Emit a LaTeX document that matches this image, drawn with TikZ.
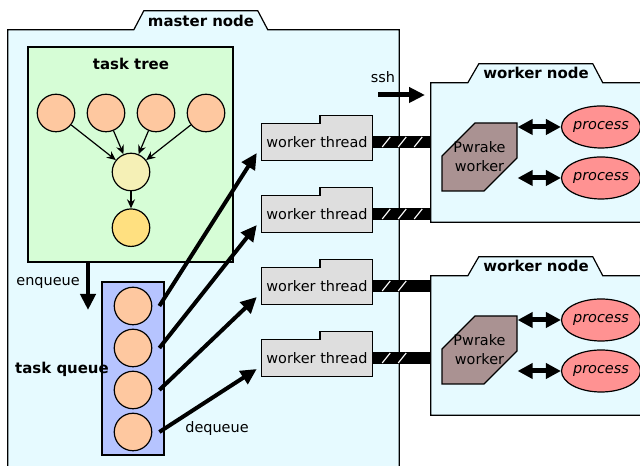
\documentclass[tikz,border=0pt]{standalone}
\usepackage{fontspec}
\setmainfont{DejaVu Sans}
\usepackage{tikz}
\usetikzlibrary{positioning}
\usetikzlibrary{shapes.geometric, shapes.misc, arrows.meta}

\definecolor{nodebg}{RGB}{230,250,255}
\definecolor{treebg}{RGB}{214,253,214}
\definecolor{queuebg}{RGB}{182,196,255}
\definecolor{taskfill}{RGB}{254,200,160}
\definecolor{midfill}{RGB}{245,240,182}
\definecolor{leaffill}{RGB}{255,224,128}
\definecolor{threadfill}{RGB}{222,222,222}
\definecolor{pwfill}{RGB}{170,146,146}
\definecolor{procfill}{RGB}{255,146,146}

\newcommand{\normsize}{\fontsize{14.5}{19}\selectfont}
\newcommand{\headsize}{\fontsize{15}{19}\selectfont\bfseries}

\tikzstyle{arrow} = [line width=4bp,-{Triangle[length=16bp,width=15bp]}]
\tikzstyle{darrow} = [line width=5bp,{Triangle[length=15bp,width=15bp]}-{Triangle[length=15bp,width=15bp]}]
\tikzstyle{tarrow} = [line width=1.2bp,-{Stealth[length=9bp,width=8bp,inset=3bp]}]
\tikzstyle{frame} = [draw,line width=1.2bp,fill=nodebg]
\tikzstyle{title} = [font=\headsize]
\tikzstyle{label} = [font=\normsize]
\tikzstyle{task} = [circle,draw,line width=1.2bp,minimum size=37.5bp,inner sep=0pt]
\tikzstyle{wthread} = [rectangle,fill=threadfill,minimum width=110bp,minimum height=37bp,inner sep=0pt,font=\normsize]
\tikzstyle{pwrake} = [chamfered rectangle,chamfered rectangle corners={north west,south east},chamfered rectangle xsep=15bp,chamfered rectangle ysep=18bp,draw,line width=1.2bp,fill=pwfill,minimum width=75bp,minimum height=68bp,inner xsep=-3.9bp,inner ysep=0pt,align=center,font=\normsize]
\tikzstyle{proc} = [ellipse,draw,line width=1.2bp,fill=procfill,minimum width=72bp,minimum height=42bp,inner sep=0pt,font=\normsize\itshape]
\tikzstyle{bar} = [line width=12bp]
\tikzstyle{slash} = [white,line width=1.1bp]

\begin{document}
\begin{tikzpicture}[x=1bp,y=1bp]
	\useasboundingbox (0,0) rectangle (640,466);

	%Master node
	\node (master) [minimum width=391bp,minimum height=456bp,inner sep=0pt] at (203.5,208) {};
	\filldraw[frame] (master.south west) -- (master.north west) -- ++(126,0) -- ++(10,19) -- ++(114,0) -- ++(10,-19) -- (master.north east) -- (master.south east);
	\node[title] (mastertitle) at (201,445) {master node};

	%Task tree
	\node (tree) [draw,line width=1.2bp,fill=treebg,minimum width=205bp,minimum height=215bp] at (130.5,311.5) {};
	\node[title] (treetitle) at (131,402) {task tree};
	\foreach \i in {1,...,4}
		\node[task,fill=taskfill] (t\i) at (6+50*\i,353) {};
	\node[task,fill=midfill] (mid) at (131,294) {};
	\node[task,fill=leaffill,below=17bp of mid] (leaf) {};
	\foreach \i in {1,...,4}
		\draw[tarrow] (t\i) -- (mid);
	\draw[tarrow] (mid) -- (leaf);

	%Task queue
	\node (queue) [draw,line width=1.2bp,fill=queuebg,minimum width=62bp,minimum height=173bp] at (133,97.5) {};
	\foreach \i in {1,...,4}
		\node[task,fill=taskfill] (q\i) at (133,202-42*\i) {};
	\node[title] (queuetitle) at (62,97) {task queue};
	\coordinate (enq) at (88,156);
	\draw[arrow] (enq |- tree.south) -- node[label,left=3bp,pos=0.42] (enqlabel) {enqueue} (enq);

	%Worker threads
	\foreach \i in {1,...,4} {
		\node[wthread] (wt\i) at (317,396-72*\i) {worker thread};
		\fill[threadfill] ([xshift=3bp]wt\i.north) rectangle ([yshift=8bp]wt\i.north east);
		\draw[line width=1.2bp] (wt\i.south west) -- (wt\i.north west) -- ([xshift=3bp]wt\i.north) -- ++(0,8) -| (wt\i.south east) -- cycle;
	}
	\foreach \i in {1,...,4}
		\draw[arrow] ([xshift=7bp]q\i.east) -- ([xshift=-5bp,yshift=-11bp]wt\i.west);
	\node[label] (deqlabel) at (217,37) {dequeue};

	%Worker nodes
	\foreach \i/\y in {1/313.5,2/120.5} {
		\node (wn\i) [minimum width=220bp,minimum height=139bp,inner sep=0pt] at (541,\y) {};
		\filldraw[frame] (wn\i.south east) -- (wn\i.south west) -- (wn\i.north west) -- ++(37,0) -- ++(11,19) -- ++(114,0) -- ++(10,-19) -- (wn\i.north east);
		\node[title] (wntitle\i) at (536,\y+79.5) {worker node};
		\node[pwrake] (pw\i) at (479.5,\y-4.5) {Pwrake\\worker};
		\node[proc] (pa\i) at (601,\y+25.5) {process};
		\node[proc] (pb\i) at (601,\y-25.5) {process};
		\draw[darrow] (pw\i.east |- pa\i) -- (pa\i.west);
		\draw[darrow] (pw\i.east |- pb\i) -- (pb\i.west);
	}

	%Connections
	\foreach \i/\j in {1/1,2/1,3/2,4/2}
		\draw[bar] (wt\i.east) -- (wt\i.east -| wn\j.west);
	\foreach \i/\n in {1/3,2/3,3/2,4/2}
		\foreach \k in {1,...,\n}
			\draw[slash] ([xshift=-6bp+16bp*\k,yshift=-5bp]wt\i.east) -- ++(8,10);
	\coordinate (sshfrom) at (378,371);
	\coordinate (sshto) at (425,371);
	\draw[arrow,line width=5bp] (sshfrom) -- (sshto);
	\node[label] (sshlabel) at (383,389) {ssh};

\end{tikzpicture}
\end{document}
